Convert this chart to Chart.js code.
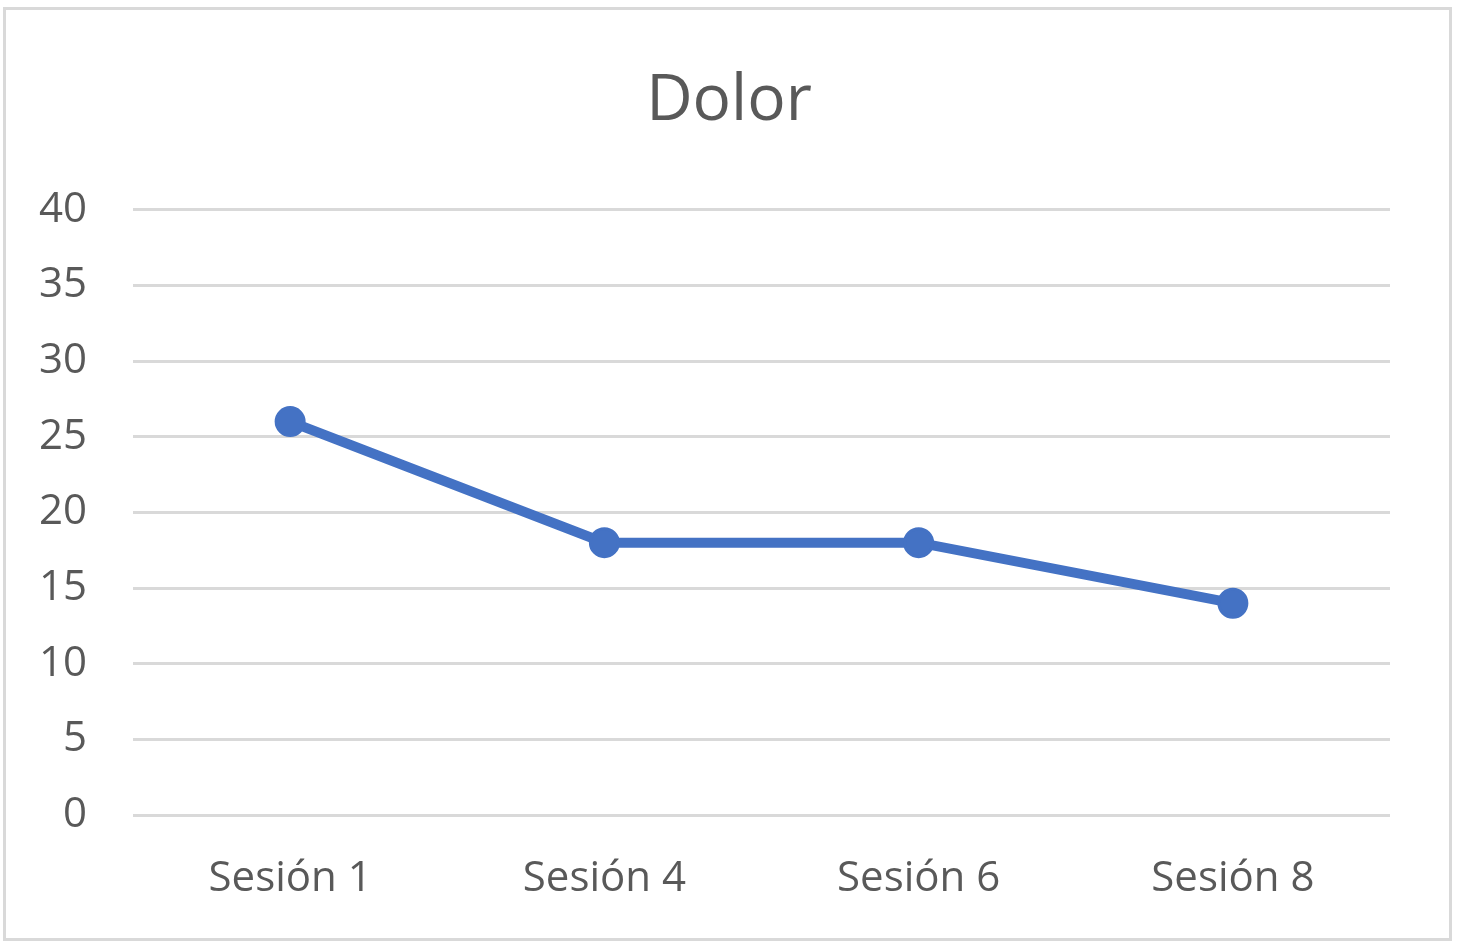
<!DOCTYPE html>
<html>
<head>
<meta charset="utf-8">
<script src="https://cdn.jsdelivr.net/npm/chart.js@4/dist/chart.umd.min.js"></script>
<style>
  body { margin: 0; background: #fff; }
  canvas { display: block; }
</style>
</head>
<body>
<canvas id="myChart" width="1458" height="944"></canvas>
<script>
const categories = ['Sesión 1', 'Sesión 4', 'Sesión 6', 'Sesión 8']
const dolorValues = [26, 18, 18, 14]
const yMin = 0
const yMax = 40
const yStep = 5

const textColor = '#595959'
const gridColor = '#d9d9d9'
const lineColor = '#4472C4'

// frame around the whole chart, like the office chart border
const framePlugin = {
  id: 'frame',
  beforeDraw: function(chart) {
    let ctx = chart.ctx
    ctx.save()
    ctx.fillStyle = '#fff'
    ctx.fillRect(0, 0, chart.width, chart.height)
    ctx.strokeStyle = gridColor
    ctx.lineWidth = 3
    ctx.strokeRect(4.5, 8.5, 1446, 931)
    ctx.restore()
  }
}

const ctx = document.getElementById('myChart')
const myChart = new Chart(ctx, {
  type: 'line',
  data: {
    labels: categories,
    datasets: [
      {
        label: 'Dolor',
        data: dolorValues,
        borderColor: lineColor,
        backgroundColor: lineColor,
        borderWidth: 10,
        tension: 0,
        pointStyle: 'circle',
        pointRadius: 14,
        pointBorderWidth: 3,
        pointBackgroundColor: lineColor,
        pointBorderColor: lineColor
      }
    ]
  },
  options: {
    responsive: false,
    animation: false,
    layout: {
      // equal side padding keeps the title centred on the whole canvas
      padding: { left: 34, right: 34, top: 63, bottom: 0 }
    },
    plugins: {
      legend: { display: false },
      tooltip: { enabled: false },
      title: {
        display: true,
        text: 'Dolor',
        color: textColor,
        font: { family: 'Open Sans', size: 64, weight: 'normal' },
        padding: { top: 0, bottom: 70 }
      }
    },
    scales: {
      x: {
        offset: true,
        border: { display: false },
        grid: { display: false, drawTicks: false },
        afterFit: function(scale) { scale.height = 129 },
        ticks: {
          color: textColor,
          padding: 39,
          font: { family: 'Open Sans', size: 42 }
        }
      },
      y: {
        min: yMin,
        max: yMax,
        border: { display: false },
        grid: { color: gridColor, lineWidth: 3, drawTicks: false },
        afterFit: function(scale) { scale.width = 99 },
        ticks: {
          stepSize: yStep,
          color: textColor,
          padding: 46,
          font: { family: 'Open Sans', size: 42 }
        }
      },
      // empty spacer on the right side of the plot
      yRight: {
        position: 'right',
        display: true,
        border: { display: false },
        grid: { display: false, drawTicks: false },
        ticks: { display: false },
        afterFit: function(scale) { scale.width = 34 }
      }
    }
  },
  plugins: [framePlugin]
})
</script>
</body>
</html>
